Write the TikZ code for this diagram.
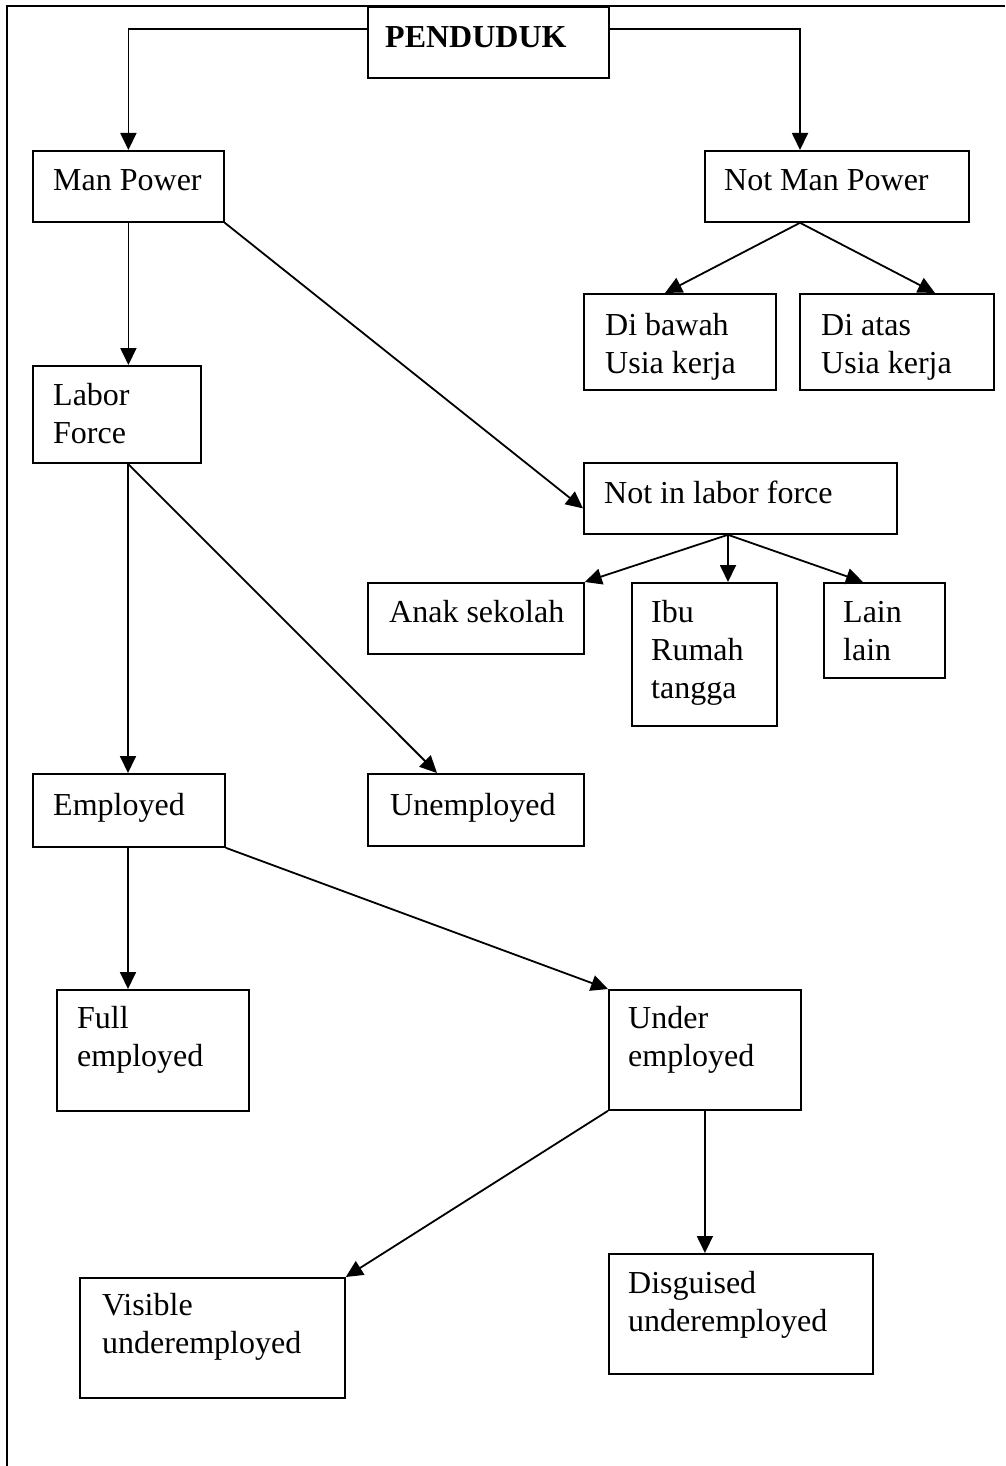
\documentclass[tikz,border=0pt]{standalone}
\usepackage{fontspec}
\setmainfont{Liberation Serif}
\usetikzlibrary{arrows.meta}
\begin{document}
\begin{tikzpicture}[x=1pt,y=-1pt,
  box/.style={draw, line width=1.8pt, inner sep=0pt, anchor=north west},
  txt/.style={anchor=north west, inner sep=0pt, align=left, font=\fontsize{32}{38}\selectfont},
  arr/.style={line width=1.8pt, -{Triangle[length=17pt,width=16pt]}}]
\useasboundingbox (0,0) rectangle (1005,1466);
% frame
\draw[line width=1.8pt] (7,1466) -- (7,6) -- (1005,6);
% boxes
\node[box, minimum width=241pt, minimum height=71pt] (pen) at (367,6) {};
\node[box, minimum width=191pt, minimum height=71pt] (mp) at (32,150) {};
\node[box, minimum width=264pt, minimum height=71pt] (nmp) at (704,150) {};
\node[box, minimum width=192pt, minimum height=96pt] (bawah) at (583,293) {};
\node[box, minimum width=194pt, minimum height=96pt] (atas) at (799,293) {};
\node[box, minimum width=168pt, minimum height=97pt] (lf) at (32,365) {};
\node[box, minimum width=313pt, minimum height=71pt] (nilf) at (583,462) {};
\node[box, minimum width=216pt, minimum height=71pt] (anak) at (367,582) {};
\node[box, minimum width=145pt, minimum height=143pt] (ibu) at (631,582) {};
\node[box, minimum width=121pt, minimum height=95pt] (lain) at (823,582) {};
\node[box, minimum width=216pt, minimum height=72pt] (unemp) at (367,773) {};
\node[box, minimum width=192pt, minimum height=73pt] (emp) at (32,773) {};
\node[box, minimum width=192pt, minimum height=121pt] (full) at (56,989) {};
\node[box, minimum width=192pt, minimum height=120pt] (under) at (608,989) {};
\node[box, minimum width=264pt, minimum height=120pt] (disg) at (608,1253) {};
\node[box, minimum width=265pt, minimum height=120pt] (vis) at (79,1277) {};
% texts
\node[txt, font=\fontsize{32}{38}\selectfont\bfseries] (pen-t) at ([shift={(18,14.4)}]pen.north west) {\strut PENDUDUK};
\node[txt] (mp-t) at ([shift={(21,13.4)}]mp.north west) {\strut Man Power};
\node[txt] (nmp-t) at ([shift={(20,13.4)}]nmp.north west) {\strut Not Man Power};
\node[txt] (bawah-t) at ([shift={(22,15.4)}]bawah.north west) {\strut Di bawah\\Usia kerja};
\node[txt] (atas-t) at ([shift={(22,15.4)}]atas.north west) {\strut Di atas\\Usia kerja};
\node[txt] (lf-t) at ([shift={(21,13.4)}]lf.north west) {\strut Labor\\Force};
\node[txt] (nilf-t) at ([shift={(21,14.4)}]nilf.north west) {\strut Not in labor force};
\node[txt] (anak-t) at ([shift={(22,13.4)}]anak.north west) {\strut Anak sekolah};
\node[txt] (ibu-t) at ([shift={(20,13.4)}]ibu.north west) {\strut Ibu\\Rumah\\tangga};
\node[txt] (lain-t) at ([shift={(20,13.4)}]lain.north west) {\strut Lain\\lain};
\node[txt] (unemp-t) at ([shift={(23,15.4)}]unemp.north west) {\strut Unemployed};
\node[txt] (emp-t) at ([shift={(21,15.4)}]emp.north west) {\strut Employed};
\node[txt] (full-t) at ([shift={(21,12.4)}]full.north west) {\strut Full\\employed};
\node[txt] (under-t) at ([shift={(20,12.4)}]under.north west) {\strut Under\\employed};
\node[txt] (disg-t) at ([shift={(20,13.4)}]disg.north west) {\strut Disguised\\underemployed};
\node[txt] (vis-t) at ([shift={(23,11.4)}]vis.north west) {\strut Visible\\underemployed};
% connector points
\coordinate (penL) at ([shift={(0,23)}]pen.north west);
\coordinate (penR) at ([shift={(0,23)}]pen.north east);
\coordinate (nmpTop) at ([shift={(96,0)}]nmp.north west);
\coordinate (nmpBot) at ([shift={(96,0)}]nmp.south west);
\coordinate (mpBot) at (mp.south);
\coordinate (lfBot) at ([shift={(96,0)}]lf.south west);
\coordinate (empBot) at ([shift={(96,0)}]emp.south west);
\coordinate (nilfBot) at ([shift={(145,0)}]nilf.south west);
\coordinate (nilfIn) at ([shift={(0,10)}]nilf.west);
\coordinate (bawahIn) at ([shift={(82,0)}]bawah.north west);
\coordinate (atasIn) at ([shift={(136,0)}]atas.north west);
\coordinate (lainIn) at ([shift={(40,0)}]lain.north west);
\coordinate (unempIn) at ([shift={(70,0)}]unemp.north west);
% connectors
\draw[arr] (penL) -| (mp.north);
\draw[arr] (penR) -| (nmpTop);
\draw[arr] (nmpBot) -- (bawahIn);
\draw[arr] (nmpBot) -- (atasIn);
\draw[arr] (mpBot) -- (mpBot |- lf.north);
\draw[arr] (mp.south east) -- (nilfIn);
\draw[arr] (nilfBot) -- (anak.north east);
\draw[arr] (nilfBot) -- (nilfBot |- ibu.north);
\draw[arr] (nilfBot) -- (lainIn);
\draw[arr] (lfBot) -- (lfBot |- emp.north);
\draw[arr] (lfBot) -- (unempIn);
\draw[arr] (empBot) -- (empBot |- full.north);
\draw[arr] (emp.south east) -- (under.north west);
\draw[arr] (under.south west) -- (vis.north east);
\draw[arr] (under.south) -- (under.south |- disg.north);
\end{tikzpicture}
\end{document}
